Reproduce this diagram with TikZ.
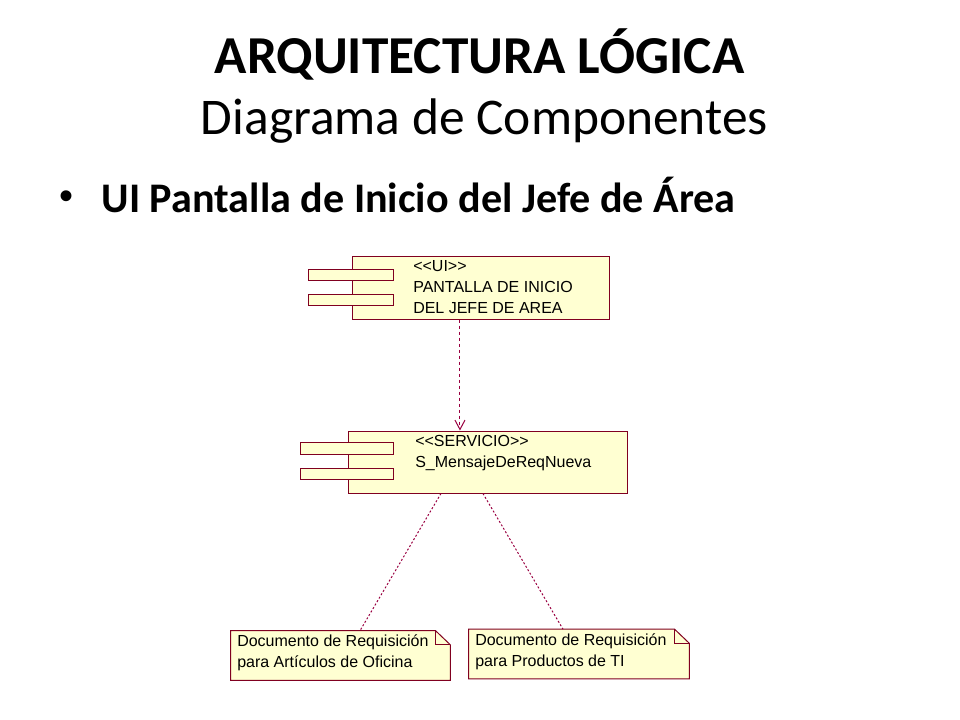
\documentclass[tikz,border=0pt]{standalone}
\usepackage{fontspec}
\setmainfont{Carlito}
\newfontfamily\umlfont{Liberation Sans}
\usetikzlibrary{positioning,arrows.meta}
\definecolor{roseFill}{HTML}{FFFFD2}
\definecolor{roseLine}{HTML}{800020}
\definecolor{roseDash}{HTML}{990040}
\begin{document}
\begin{tikzpicture}[
  x=0.75pt, y=-0.75pt,
  block/.style={rectangle, draw=roseLine, fill=roseFill, line width=0.75pt, minimum height=46.5pt, inner sep=0pt},
  port/.style={rectangle, draw=roseLine, fill=roseFill, line width=0.75pt, minimum height=8.8pt, inner sep=0pt},
  notebox/.style={rectangle, inner sep=0pt, minimum height=36.75pt},
  notefold/.style={draw=roseLine, fill=roseFill, line width=0.75pt, line join=miter},
  umltext/.style={anchor=base west, align=left, inner sep=0pt, font=\umlfont\fontsize{12}{15.4}\selectfont},
  dep/.style={draw=roseDash, line width=0.75pt, dash pattern=on 2.5pt off 2pt},
  link/.style={draw=roseDash, line width=0.75pt, dash pattern=on 1.5pt off 1.5pt}
]
\useasboundingbox (0,0) rectangle (960,720);

\node[font=\bfseries\fontsize{40}{48}\selectfont, anchor=base] (title) at (479.5,74) {ARQUITECTURA LÓGICA};
\node[font=\fontsize{38.6}{46}\selectfont, anchor=base] (subtitle) at (484.5,135) {Diagrama de Componentes};
\node[font=\umlfont\fontsize{30}{34}\selectfont, anchor=base] (bullet) at (67,210) {•};
\node[font=\bfseries\fontsize{31.6}{38}\selectfont, anchor=base west] (item) at (97,213) {UI Pantalla de Inicio del Jefe de Área};

\node[block, minimum width=192.75pt] (ui) at (480.5,288) {};
\node[port, minimum width=63.75pt] (uiporta) at (350.5,275) {};
\node[port, minimum width=63.75pt] (uiportb) at (350.5,300) {};
\node[umltext] (uitext) at (413,313) {<{}<UI>{}>\\PANTALLA DE INICIO\\DEL JEFE DE AREA};

\node[block, minimum width=209.25pt] (svc) at (487.5,462) {};
\node[port, minimum width=69.75pt] (svcporta) at (346.5,448.5) {};
\node[port, minimum width=69.75pt] (svcportb) at (346.5,474) {};
\node[umltext] (svctext) at (415,467) {<{}<SERVICIO>{}>\\S\_MensajeDeReqNueva};

\node[notebox, minimum width=164.25pt] (artnote) at (340.5,655.5) {};
\draw[notefold] (artnote.north west) -- ([xshift=-11pt]artnote.north east) -- ([yshift=-10.5pt]artnote.north east)
  -- (artnote.south east) -- (artnote.south west) -- cycle;
\draw[notefold, fill=none] ([xshift=-11pt]artnote.north east) |- ([yshift=-10.5pt]artnote.north east);
\node[umltext] (arttext) at (237,667) {Documento de Requisición\\para Artículos de Oficina};

\node[notebox, minimum width=165pt] (prodnote) at (579,654) {};
\draw[notefold] (prodnote.north west) -- ([xshift=-11pt]prodnote.north east) -- ([yshift=-10.5pt]prodnote.north east)
  -- (prodnote.south east) -- (prodnote.south west) -- cycle;
\draw[notefold, fill=none] ([xshift=-11pt]prodnote.north east) |- ([yshift=-10.5pt]prodnote.north east);
\node[umltext] (prodtext) at (475,666) {Documento de Requisición\\para Productos de TI};

\coordinate (deptop) at ([xshift=-15.4pt]ui.south);
\draw[dep, -{Straight Barb[length=7pt,width=7.5pt]}] (deptop) -- (deptop |- svc.north);
\draw[link] ([xshift=-34.9pt]svc.south) -- ([xshift=14.6pt]artnote.north);
\draw[link] ([xshift=-3.4pt]svc.south) -- ([xshift=-12pt]prodnote.north);
\end{tikzpicture}
\end{document}
